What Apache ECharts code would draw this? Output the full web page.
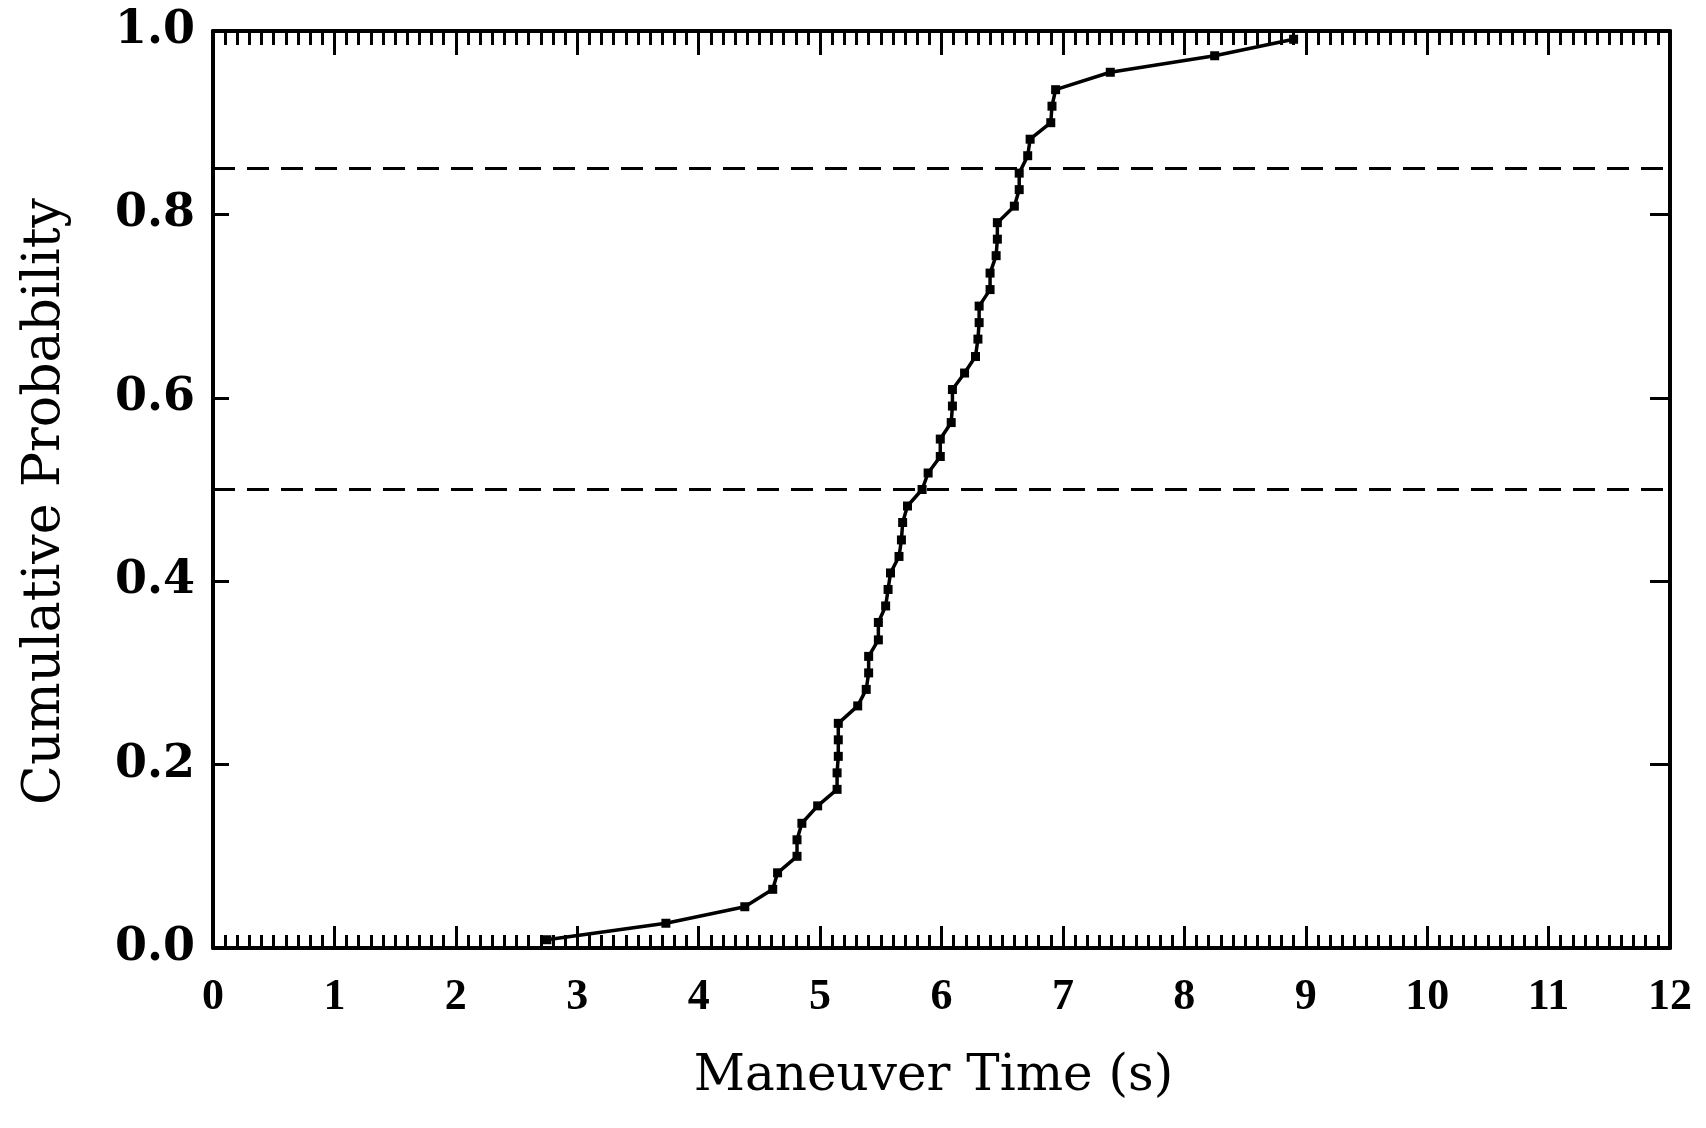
<!DOCTYPE html>
<html>
<head>
<meta charset="utf-8">
<title>Maneuver Time CDF</title>
<script src="https://cdn.jsdelivr.net/npm/echarts@6/dist/echarts.min.js"></script>
<style>
  html, body { margin: 0; padding: 0; background: #fff; }
  #chart { width: 1706px; height: 1128px; }
</style>
</head>
<body>
<div id="chart"></div>
<script>
// Observed maneuver times (s), sorted ascending
const maneuverTime = [
  2.75, 3.73, 4.38, 4.61, 4.65, 4.81, 4.81, 4.85, 4.98, 5.14,
  5.14, 5.15, 5.15, 5.15, 5.31, 5.38, 5.40, 5.40, 5.48, 5.48,
  5.54, 5.56, 5.58, 5.65, 5.67, 5.68, 5.72, 5.84, 5.89, 5.99,
  5.99, 6.08, 6.09, 6.09, 6.19, 6.28, 6.30, 6.31, 6.31, 6.40,
  6.40, 6.45, 6.46, 6.46, 6.60, 6.64, 6.64, 6.71, 6.73, 6.90,
  6.91, 6.94, 7.39, 8.25, 8.90
];

// Cumulative probability at each observation
const cumulativeProb = [
  0.009, 0.027, 0.045, 0.064, 0.082, 0.100, 0.118, 0.136, 0.155, 0.173,
  0.191, 0.209, 0.227, 0.245, 0.264, 0.282, 0.300, 0.318, 0.336, 0.355,
  0.373, 0.391, 0.409, 0.427, 0.445, 0.464, 0.482, 0.500, 0.518, 0.536,
  0.555, 0.573, 0.591, 0.609, 0.627, 0.645, 0.664, 0.682, 0.700, 0.718,
  0.736, 0.755, 0.773, 0.791, 0.809, 0.827, 0.845, 0.864, 0.882, 0.900,
  0.918, 0.936, 0.955, 0.973, 0.991
];

// Reference probability levels (dashed)
const referenceLevels = [0.5, 0.85];

// Tick labels
const xTickLabels = ['0', '1', '2', '3', '4', '5', '6', '7', '8', '9', '10', '11', '12'];
const yTickLabels = ['0.0', '0.2', '0.4', '0.6', '0.8', '1.0'];

const points = maneuverTime.map((t, i) => [t, cumulativeProb[i]]);

const INK = '#000';
const frameLine = { show: true, onZero: false, lineStyle: { color: INK, width: 4 } };

const chart = echarts.init(document.getElementById('chart'), null, { renderer: 'canvas' });

chart.setOption({
  animation: false,
  backgroundColor: '#fff',
  grid: { left: 213, right: 36, top: 31, bottom: 180, containLabel: false },
  xAxis: [
    {
      type: 'value', position: 'bottom', min: 0, max: 12, interval: 1,
      axisLine: frameLine,
      axisTick: { show: true, inside: true, length: 22, lineStyle: { color: INK, width: 3 } },
      minorTick: { show: true, splitNumber: 10, length: 13, lineStyle: { color: INK, width: 3 } },
      splitLine: { show: false },
      axisLabel: {
        show: true, margin: 28, color: INK,
        fontFamily: 'Liberation Serif', fontWeight: 'bold', fontSize: 44,
        formatter: v => xTickLabels[Math.round(v)]
      },
      name: 'Maneuver Time (s)', nameLocation: 'middle', nameGap: 104,
      nameTextStyle: { fontFamily: 'DejaVu Serif', fontSize: 50, color: INK, padding: [0, 16, 0, 0] }
    },
    {
      type: 'value', position: 'top', min: 0, max: 12, interval: 1,
      axisLine: frameLine,
      axisTick: { show: true, inside: true, length: 24, lineStyle: { color: INK, width: 3 } },
      minorTick: { show: true, splitNumber: 10, length: 14, lineStyle: { color: INK, width: 3 } },
      splitLine: { show: false },
      axisLabel: { show: false }
    }
  ],
  yAxis: [
    {
      type: 'value', position: 'left', min: 0, max: 1, interval: 0.2,
      axisLine: frameLine,
      axisTick: { show: true, inside: true, length: 16, lineStyle: { color: INK, width: 3 } },
      splitLine: { show: false },
      axisLabel: {
        show: true, margin: 18, color: INK,
        fontFamily: 'DejaVu Serif', fontWeight: 'bold', fontSize: 46,
        formatter: v => yTickLabels[Math.round(v / 0.2)]
      },
      name: 'Cumulative Probability', nameLocation: 'middle', nameGap: 142, nameRotate: 90,
      nameTextStyle: { fontFamily: 'DejaVu Serif', fontSize: 52, color: INK, padding: [0, 24, 0, 0] }
    },
    {
      type: 'value', position: 'right', min: 0, max: 1, interval: 0.2,
      axisLine: frameLine,
      axisTick: { show: true, inside: true, length: 20, lineStyle: { color: INK, width: 3 } },
      splitLine: { show: false },
      axisLabel: { show: false }
    }
  ],
  series: [
    {
      type: 'line',
      xAxisIndex: 0, yAxisIndex: 0,
      data: points,
      symbol: 'rect', symbolSize: 9,
      lineStyle: { color: INK, width: 3.5 },
      itemStyle: { color: INK },
      silent: true,
      markLine: {
        silent: true,
        symbol: 'none',
        label: { show: false },
        lineStyle: { color: INK, width: 3, type: [22, 12] },
        data: referenceLevels.map(v => ({ yAxis: v }))
      }
    }
  ]
});
</script>
</body>
</html>
